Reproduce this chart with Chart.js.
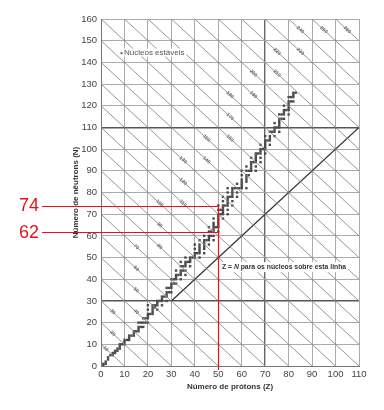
<!DOCTYPE html>
<html><head><meta charset="utf-8">
<script src="https://cdn.jsdelivr.net/npm/chart.js@4.4.0/dist/chart.umd.min.js"></script>
<style>html,body{margin:0;padding:0;background:#fff;}</style>
</head><body>
<canvas id="c" width="384" height="410"></canvas>
<script>
// ---- data ----
const zTicks = [0,10,20,30,40,50,60,70,80,90,100,110];
const nTicks = [0,10,20,30,40,50,60,70,80,90,100,110,120,130,140,150,160];
const massLines = [10,20,30,40,50,60,70,80,90,100,110,120,130,140,150,160,170,180,190,200,210,220,230,240,250,260];
const massLabelZ = [2,5,5,15,15,15,15,25,25,25,35,35,35,45,45,55,55,55,65,65,75,75,85,85,95,105];
const zEqualsN = [30,110];
const markedN = [74,62];
const markedZ = 50;
// stable nuclei: [Z, [N values]]
const stableNuclei = [
 [1,[0,1]],[2,[1,2]],[3,[3,4]],[4,[5]],[5,[5,6]],[6,[6,7]],[7,[7,8]],[8,[8,9,10]],[9,[10]],
 [10,[10,11,12]],[11,[12]],[12,[12,13,14]],[13,[14]],[14,[14,15,16]],[15,[16]],[16,[16,17,18,20]],
 [17,[18,20]],[18,[18,20,22]],[19,[20,22]],[20,[20,22,23,24,26,28]],[21,[24]],[22,[24,25,26,27,28]],
 [23,[27,28]],[24,[26,28,29,30]],[25,[30]],[26,[28,30,31,32]],[27,[32]],[28,[30,32,33,34,36]],
 [29,[34,36]],[30,[34,36,37,38,40]],[31,[38,40]],[32,[38,40,41,42,44]],[33,[42]],[34,[40,42,43,44,46,48]],
 [35,[44,46]],[36,[42,44,46,47,48,50]],[37,[48]],[38,[46,48,49,50]],[39,[50]],[40,[50,51,52,54,56]],
 [41,[52]],[42,[50,52,53,54,55,56,58]],[44,[52,54,55,56,57,58,60]],[45,[58]],[46,[56,58,59,60,62,64]],
 [47,[60,62]],[48,[58,60,62,63,64,65,66,68]],[49,[64]],[50,[62,64,65,66,67,68,69,70,72,74]],[51,[70,72]],
 [52,[68,70,71,72,73,74,76,78]],[53,[74]],[54,[70,72,74,75,76,77,78,80,82]],[55,[78]],[56,[74,76,78,79,80,81,82]],
 [57,[82]],[58,[78,80,82,84]],[59,[82]],[60,[82,83,84,85,86,88,90]],[62,[82,85,86,87,88,90,92]],[63,[88,90]],
 [64,[90,91,92,93,94,96]],[65,[94]],[66,[90,92,94,95,96,97,98]],[67,[98]],[68,[94,96,98,99,100,102]],[69,[100]],
 [70,[98,100,101,102,103,104,106]],[71,[104]],[72,[102,104,105,106,108]],[73,[108]],[74,[106,108,109,110,112]],
 [75,[110]],[76,[108,110,111,112,113,114,116]],[77,[114,116]],[78,[114,116,117,118,120]],[79,[118]],
 [80,[116,118,119,120,121,122,124]],[81,[122,124]],[82,[122,124,125,126]],[83,[126]]
];

// ---- datasets built from data ----
const stablePoints = [];
stableNuclei.forEach(([z, ns]) => ns.forEach(n => stablePoints.push({x:z, y:n})));
const zMax = zTicks[zTicks.length-1], nMax = nTicks[nTicks.length-1];
const diagSets = massLines.map(A => {
  const x0 = Math.max(0, A - nMax), x1 = Math.min(zMax, A);
  return {type:'line', data:[{x:x0,y:A-x0},{x:x1,y:A-x1}], borderColor:'#8a8a8a', borderWidth:0.9,
          pointRadius:0, showLine:true, fill:false};
});

const FONT = '"Liberation Sans", Arial, sans-serif';

const annot = {
  id:'annot',
  afterDatasetsDraw(chart){
    const ctx = chart.ctx, xs = chart.scales.x, ys = chart.scales.y;
    const px = v => xs.getPixelForValue(v), py = v => ys.getPixelForValue(v);
    ctx.save();
    // mass labels
    const ang = Math.atan2(py(0)-py(10), px(10)-px(0));
    ctx.fillStyle = '#666';
    ctx.font = 'bold 5px ' + FONT;
    ctx.textAlign = 'center'; ctx.textBaseline = 'middle';
    massLines.forEach((A,i) => {
      if (i >= massLabelZ.length) return;
      const z = massLabelZ[i];
      ctx.save();
      ctx.translate(px(z), py(A - z));
      ctx.rotate(ang);
      ctx.fillText(String(A), 0, 0);
      ctx.restore();
    });
    // Núcleos estáveis legend
    ctx.font = '8px ' + FONT;
    ctx.textAlign = 'left';
    const lt = 'Núcleos estáveis';
    const lx = px(9.8), ly = py(144.5);
    const lw = ctx.measureText(lt).width;
    ctx.fillStyle = '#fff';
    ctx.fillRect(lx - 4, ly - 4, lw + 6, 8);
    ctx.fillStyle = '#666';
    ctx.fillRect(lx - 3.5, ly - 0.5, 2, 2);
    ctx.fillStyle = '#555';
    ctx.fillText(lt, lx, ly);
    // Z = N text
    const tx = px(51.6), ty = py(45.6);
    const parts = [['Z = ','bold '],['N','italic bold '],[' para os núcleos sobre esta linha','bold ']];
    let w = 0;
    parts.forEach(p => { ctx.font = p[1] + '6.8px ' + FONT; w += ctx.measureText(p[0]).width; });
    ctx.fillStyle = '#fff';
    ctx.fillRect(tx - 2, ty - 5, w + 4, 10);
    ctx.fillStyle = '#333';
    let cx = tx;
    parts.forEach(p => { ctx.font = p[1] + '6.8px ' + FONT; ctx.fillText(p[0], cx, ty); cx += ctx.measureText(p[0]).width; });
    // red guide lines
    ctx.strokeStyle = '#e8101a'; ctx.lineWidth = 1.2;
    const leftPx = 42;
    markedN.forEach(n => {
      ctx.beginPath(); ctx.moveTo(leftPx, Math.round(py(n))+0.5); ctx.lineTo(px(markedZ), Math.round(py(n))+0.5); ctx.stroke();
    });
    ctx.beginPath();
    ctx.moveTo(Math.round(px(markedZ))+0.5, py(Math.max(...markedN)));
    ctx.lineTo(Math.round(px(markedZ))+0.5, ys.bottom + 4);
    ctx.stroke();
    ctx.fillStyle = '#e8101a';
    ctx.font = '18px ' + FONT;
    ctx.textAlign = 'right'; ctx.textBaseline = 'middle';
    markedN.forEach(n => ctx.fillText(String(n), 39, py(n) + 1));
    ctx.restore();
  }
};

new Chart(document.getElementById('c'), {
  type:'scatter',
  data:{datasets:[
    ...diagSets,
    {type:'line', data:zEqualsN.map(v=>({x:v,y:v})), borderColor:'#333', borderWidth:1.3, pointRadius:0, showLine:true, fill:false},
    {data:stablePoints, pointStyle:'rect', pointRadius:1.7, backgroundColor:'#4a4a4a', borderWidth:0}
  ]},
  options:{
    responsive:false, animation:false, devicePixelRatio:1,
    layout:{padding:{left:0,right:25,top:19,bottom:14}},
    plugins:{legend:{display:false}, tooltip:{enabled:false}},
    scales:{
      x:{type:'linear', min:0, max:zMax,
        afterBuildTicks:s=>{s.ticks = zTicks.map(v=>({value:v}));},
        afterFit:s=>{s.height = 30;},
        grid:{drawTicks:false, color:c=>c.tick && c.tick.value===70 ? '#666' : '#aaa', lineWidth:c=>c.tick && c.tick.value===70 ? 1.4 : 1},
        border:{display:true, color:'#777', width:1},
        ticks:{padding:3, color:'#444', font:{family:FONT, size:9.5}, maxRotation:0, autoSkip:false},
        title:{display:true, text:'Número de prótons (Z)', color:'#333', font:{family:FONT, size:8, weight:'bold'}, padding:{top:4,bottom:4}}
      },
      y:{type:'linear', min:0, max:nMax,
        afterBuildTicks:s=>{s.ticks = nTicks.map(v=>({value:v}));},
        afterFit:s=>{s.width = 101;},
        grid:{drawTicks:false, color:c=>c.tick && (c.tick.value===30||c.tick.value===110) ? '#555' : '#aaa', lineWidth:c=>c.tick && (c.tick.value===30||c.tick.value===110) ? 1.5 : 1},
        border:{display:true, color:'#777', width:1},
        ticks:{padding:4, color:'#444', font:{family:FONT, size:9.5}, autoSkip:false},
        title:{display:true, text:'Número de nêutrons (N)', color:'#333', font:{family:FONT, size:8, weight:'bold'}, padding:{top:71,bottom:0}}
      }
    }
  },
  plugins:[annot]
});
</script>
</body></html>
